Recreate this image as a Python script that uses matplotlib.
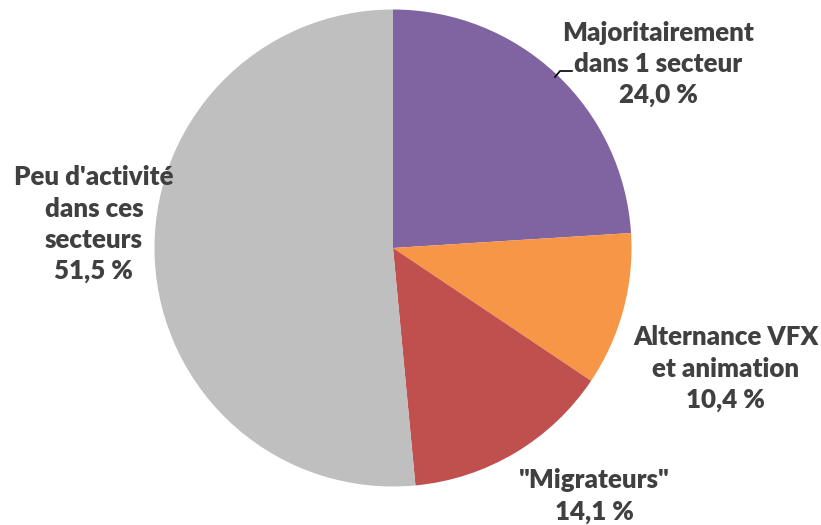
import matplotlib
matplotlib.use("Agg")
import matplotlib.pyplot as plt

labels = ["Majoritairement\ndans 1 secteur", "Alternance VFX\net animation",
          "\"Migrateurs\"", "Peu d'activité\ndans ces\nsecteurs"]
values = [24.0, 10.4, 14.1, 51.5]
colors = ["#8064A2", "#F79646", "#C0504D", "#BFBFBF"]
# label centres in pie units (radius = 1)
label_pos = [(1.113, 0.771), (1.395, -0.506), (0.845, -1.040), (-1.254, 0.099)]

W, H = 821, 525
cx, cy, r = 393, 248, 238.5

fig = plt.figure(figsize=(W / 100, H / 100), dpi=100)
ax = fig.add_axes([(cx - r) / W, (H - cy - r) / H, 2 * r / W, 2 * r / H])
ax.pie(values, colors=colors, startangle=90, counterclock=False,
       wedgeprops=dict(linewidth=0))
ax.set_xlim(-1, 1)
ax.set_ylim(-1, 1)
ax.set_aspect("equal")
ax.axis("off")

for lab, v, (x, y) in zip(labels, values, label_pos):
    txt = f"{lab}\n{v:.1f} %".replace(".", ",")
    ax.text(x, y, txt, ha="center", va="center", fontsize=18.6,
            fontweight="heavy", family=["Lato", "DejaVu Sans"],
            color="#404040", linespacing=1.36, clip_on=False)

# leader line for the first label
ax.plot([-(393 - 555) / r, (560 - 393) / r, (572 - 393) / r],
        [(cy - 77) / r, (cy - 71) / r, (cy - 71) / r],
        color="black", lw=1.2, clip_on=False)

fig.savefig("out.png", dpi=100)
